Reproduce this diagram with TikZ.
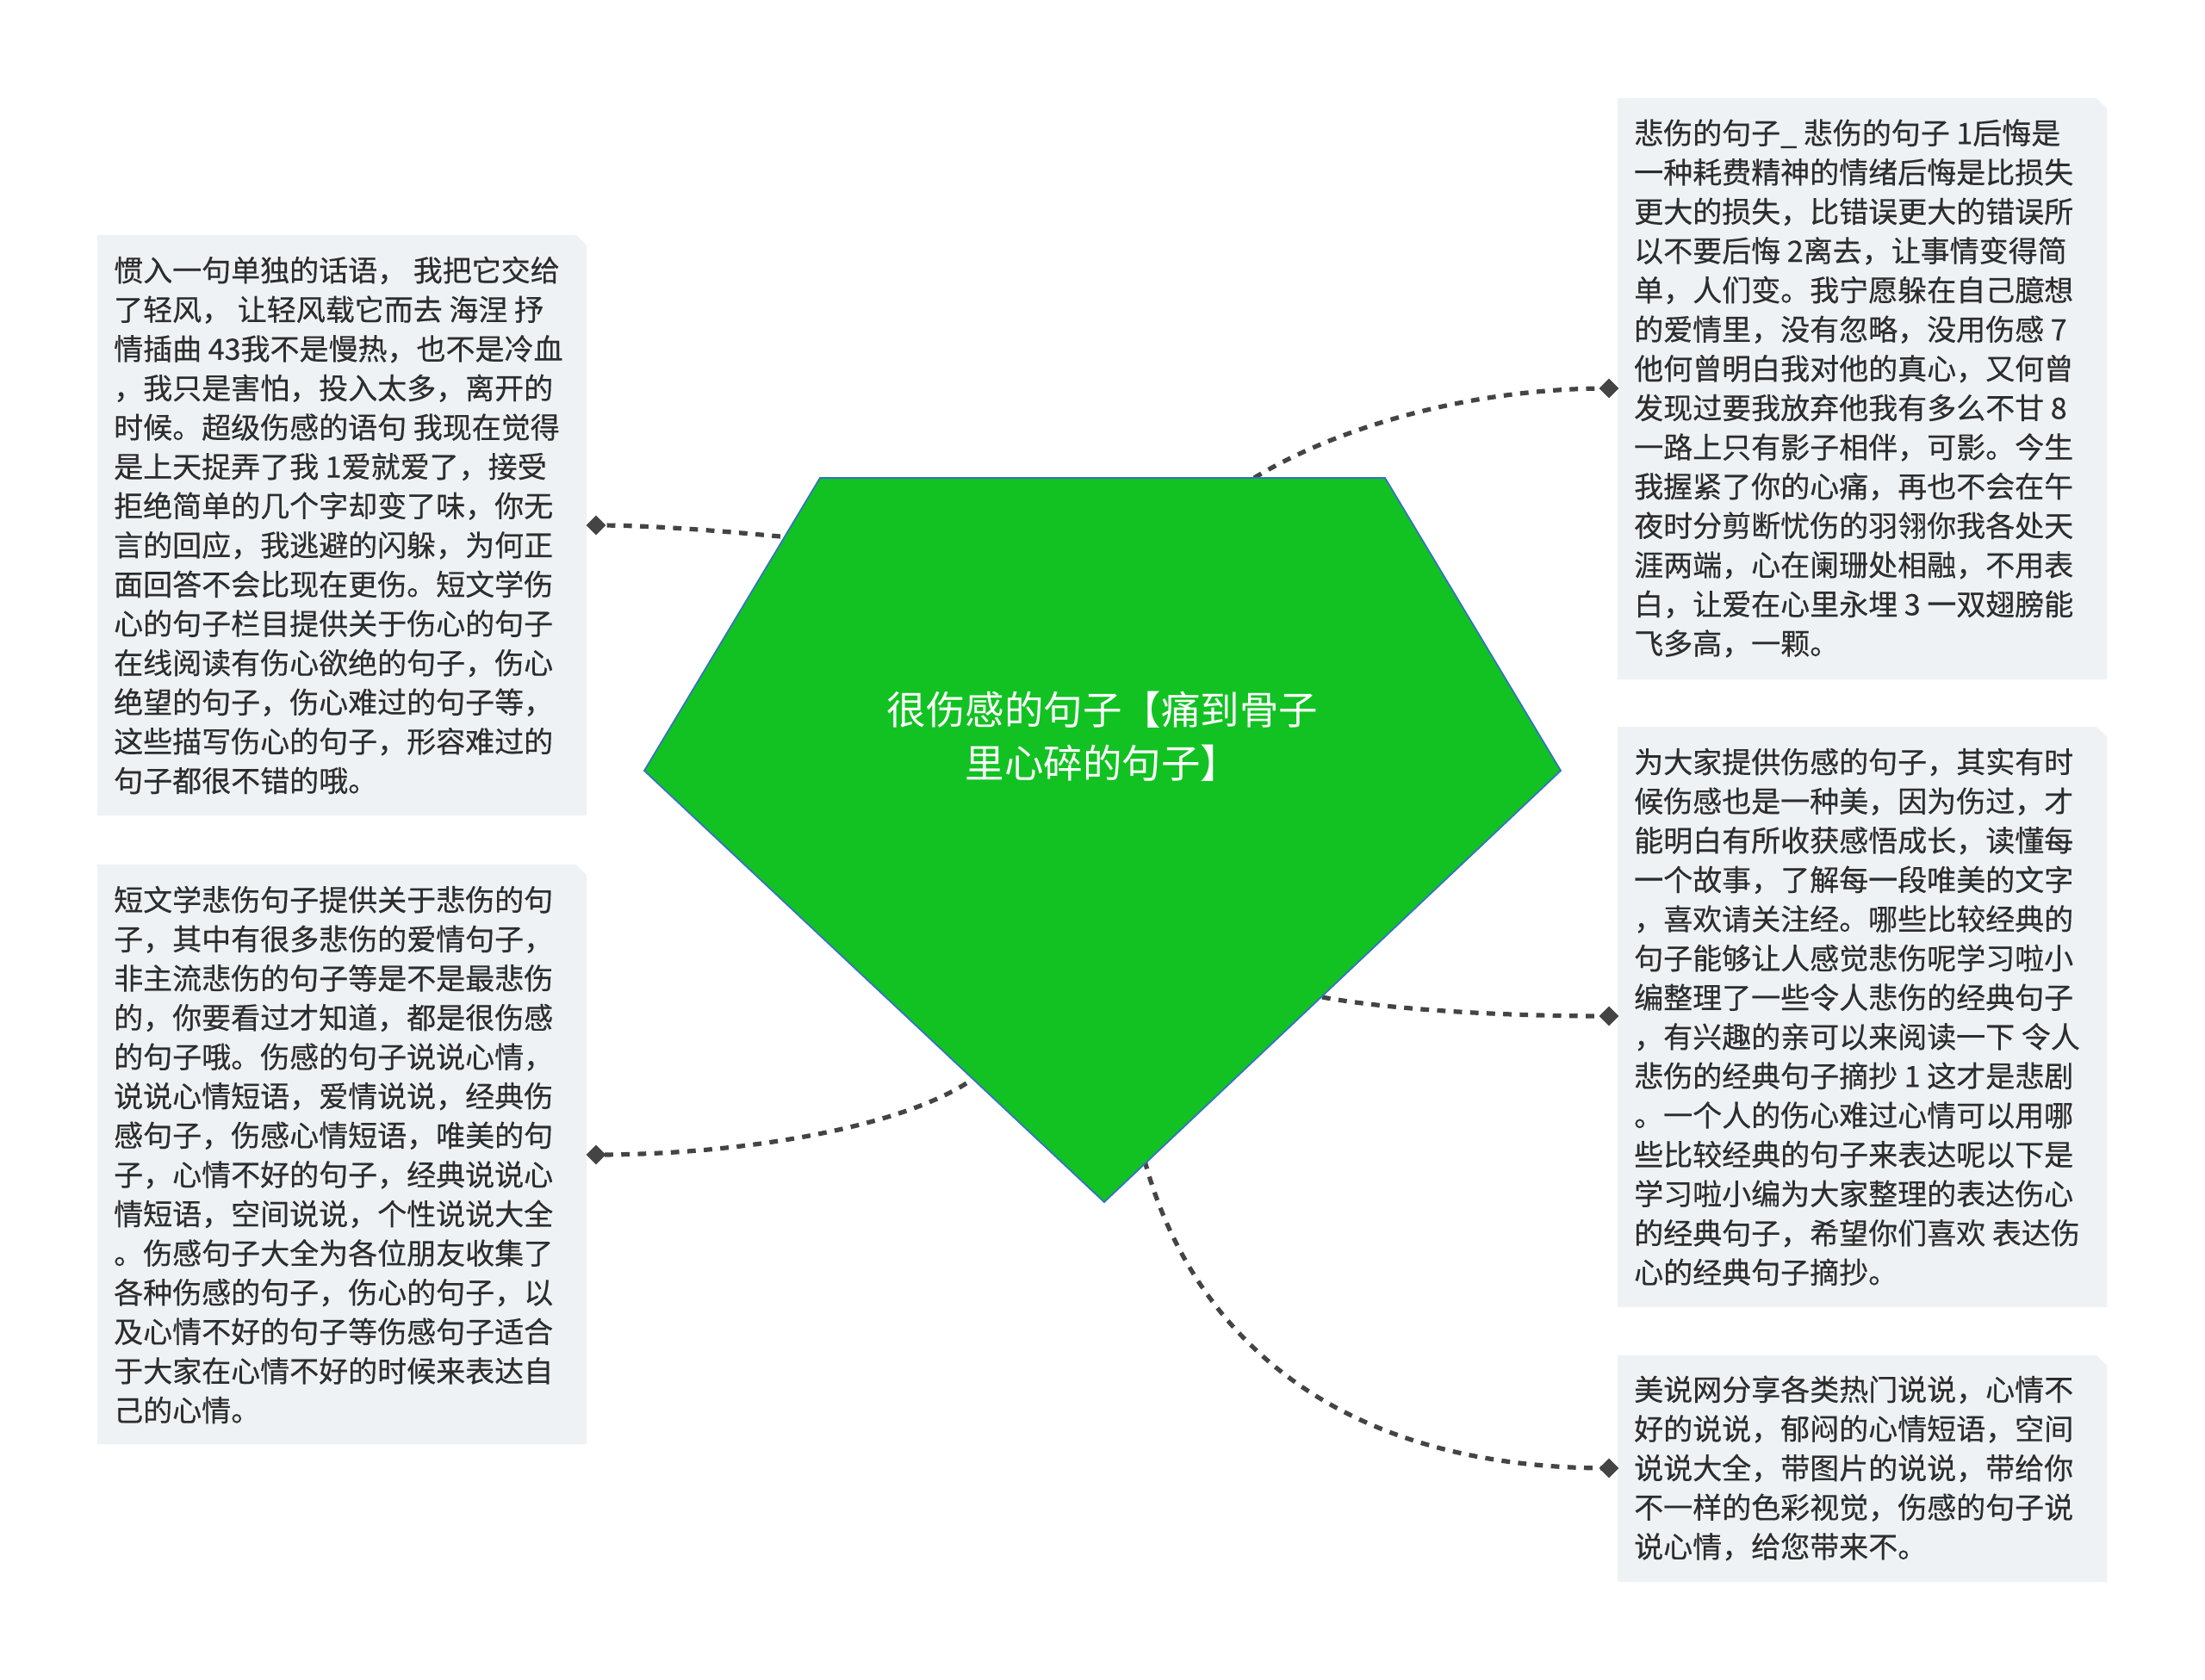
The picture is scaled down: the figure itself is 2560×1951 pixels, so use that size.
\documentclass[tikz,border=0pt]{standalone}
\usepackage{fontspec}
\setmainfont{Noto Sans CJK SC}[FakeBold=0.35]
\newfontfamily\rootfont{Noto Sans CJK SC}
\usetikzlibrary{shapes.geometric,calc}
\definecolor{rootgreen}{RGB}{18,193,34}
\definecolor{rootedge}{RGB}{52,114,196}
\definecolor{boxfill}{RGB}{239,242,245}
\definecolor{txt}{RGB}{45,45,45}
\definecolor{link}{RGB}{68,68,68}
\newcommand\cutbox[4]{\fill[boxfill] (#1,#2) -- ({#3-12},#2) -- (#3,{#2+12}) -- (#3,#4) -- (#1,#4) -- cycle;}
\begin{document}
\begin{tikzpicture}[x=1pt,y=-1pt,
  leaf/.style={text=txt, align=left, inner sep=0pt, anchor=west, font=\fontsize{34}{45.6}\selectfont},
  conn/.style={draw=link, line width=5.2pt, dash pattern=on 9.8pt off 9.4pt},
  tipmark/.style={diamond, fill=link, inner sep=0pt, minimum size=23pt},
  roottext/.style={text=white, align=center, inner sep=0pt, font=\rootfont\fontsize{45.5}{62}\selectfont},
]
\useasboundingbox (0,0) rectangle (2560,1951);
\fill[white] (0,0) rectangle (2560,1951);

% boxes
\cutbox{113}{273}{681}{947}
\cutbox{113}{1004}{681}{1677}
\cutbox{1878}{114}{2446}{789}
\cutbox{1878}{844}{2446}{1518}
\cutbox{1878}{1574}{2446}{1837}

% pentagon vertices
\coordinate (ptl) at (952,555);
\coordinate (ptr) at (1608,555);
\coordinate (pr) at (1812,895);
\coordinate (pb) at (1282,1396);
\coordinate (pl) at (748,895);

% diamonds
\node[tipmark] (d1) at (692,610) {};
\node[tipmark] (d2) at (692,1341) {};
\node[tipmark] (d3) at (1868,451) {};
\node[tipmark] (d4) at (1868,1180) {};
\node[tipmark] (d5) at (1868,1705) {};

% connector starts on the pentagon edge
\coordinate (s1) at (906,623);
\coordinate (s2) at (1122,1258);
\coordinate (s3) at (1456,555);
\coordinate (s4) at (1535,1158);
\coordinate (s5) at (1329,1348);

\draw[conn] (s1) .. controls (840,617) and (760,610) .. (d1.center);
\draw[conn] (s2) .. controls (1040,1310) and (860,1341) .. (d2.center);
\draw[conn] (s3) .. controls (1548,499) and (1700,451) .. (d3.center);
\draw[conn] (s4) .. controls (1600,1170) and (1720,1180) .. (d4.center);
\draw[conn] (s5) .. controls (1370,1500) and (1500,1705) .. (d5.center);

% root
\filldraw[fill=rootgreen, draw=rootedge, line width=1.8pt, line join=miter] (ptl) -- (ptr) -- (pr) -- (pb) -- (pl) -- cycle;
\node[roottext] (root) at (1280,855) {很伤感的句子【痛到骨子\\里心碎的句子】};

% texts
\node[leaf] (t1) at (132,610) {惯入一句单独的话语， 我把它交给\\了轻风， 让轻风载它而去 海涅 抒\\情插曲 43我不是慢热，也不是冷血\\，我只是害怕，投入太多，离开的\\时候。超级伤感的语句 我现在觉得\\是上天捉弄了我 1爱就爱了，接受\\拒绝简单的几个字却变了味，你无\\言的回应，我逃避的闪躲，为何正\\面回答不会比现在更伤。短文学伤\\心的句子栏目提供关于伤心的句子\\在线阅读有伤心欲绝的句子，伤心\\绝望的句子，伤心难过的句子等，\\这些描写伤心的句子，形容难过的\\句子都很不错的哦。};
\node[leaf] (t2) at (132,1341) {短文学悲伤句子提供关于悲伤的句\\子，其中有很多悲伤的爱情句子，\\非主流悲伤的句子等是不是最悲伤\\的，你要看过才知道，都是很伤感\\的句子哦。伤感的句子说说心情，\\说说心情短语，爱情说说，经典伤\\感句子，伤感心情短语，唯美的句\\子，心情不好的句子，经典说说心\\情短语，空间说说，个性说说大全\\。伤感句子大全为各位朋友收集了\\各种伤感的句子，伤心的句子，以\\及心情不好的句子等伤感句子适合\\于大家在心情不好的时候来表达自\\己的心情。};
\node[leaf] (t3) at (1897,451) {悲伤的句子\_ 悲伤的句子 1后悔是\\一种耗费精神的情绪后悔是比损失\\更大的损失，比错误更大的错误所\\以不要后悔 2离去，让事情变得简\\单，人们变。我宁愿躲在自己臆想\\的爱情里，没有忽略，没用伤感 7\\他何曾明白我对他的真心，又何曾\\发现过要我放弃他我有多么不甘 8\\一路上只有影子相伴，可影。今生\\我握紧了你的心痛，再也不会在午\\夜时分剪断忧伤的羽翎你我各处天\\涯两端，心在阑珊处相融，不用表\\白，让爱在心里永埋 3 一双翅膀能\\飞多高，一颗。};
\node[leaf] (t4) at (1897,1181) {为大家提供伤感的句子，其实有时\\候伤感也是一种美，因为伤过，才\\能明白有所收获感悟成长，读懂每\\一个故事，了解每一段唯美的文字\\，喜欢请关注经。哪些比较经典的\\句子能够让人感觉悲伤呢学习啦小\\编整理了一些令人悲伤的经典句子\\，有兴趣的亲可以来阅读一下 令人\\悲伤的经典句子摘抄 1 这才是悲剧\\。一个人的伤心难过心情可以用哪\\些比较经典的句子来表达呢以下是\\学习啦小编为大家整理的表达伤心\\的经典句子，希望你们喜欢 表达伤\\心的经典句子摘抄。};
\node[leaf] (t5) at (1897,1705) {美说网分享各类热门说说，心情不\\好的说说，郁闷的心情短语，空间\\说说大全，带图片的说说，带给你\\不一样的色彩视觉，伤感的句子说\\说心情，给您带来不。};
\end{tikzpicture}
\end{document}
